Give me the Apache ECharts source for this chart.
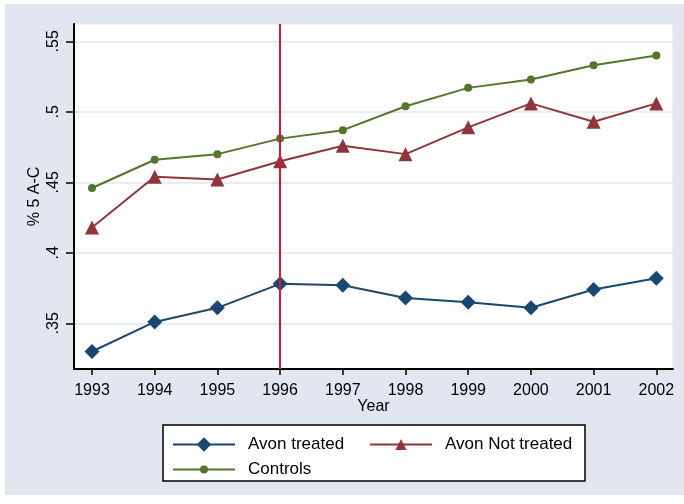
<!DOCTYPE html>
<html>
<head>
<meta charset="utf-8">
<script src="https://cdn.jsdelivr.net/npm/echarts@6/dist/echarts.min.js"></script>
<style>
body { margin: 0; background: #ffffff; }
#chart { width: 684px; height: 504px; }
</style>
</head>
<body>
<div id="chart"></div>
<script>
// data
var years = [1993, 1994, 1995, 1996, 1997, 1998, 1999, 2000, 2001, 2002];
var avonTreated = [0.330, 0.351, 0.361, 0.378, 0.377, 0.368, 0.365, 0.361, 0.374, 0.382];
var avonNotTreated = [0.418, 0.454, 0.452, 0.465, 0.476, 0.470, 0.489, 0.506, 0.493, 0.506];
var controls = [0.446, 0.466, 0.470, 0.481, 0.487, 0.504, 0.517, 0.523, 0.533, 0.540];
var yTicks = [0.35, 0.4, 0.45, 0.5, 0.55];
var treatYear = 1996;

var bg = '#e1e6f0';
var gridCol = '#e1e6f0';
var font = '"Liberation Sans", Arial, sans-serif';

function pairs(vals) {
    var out = [];
    for (var i = 0; i < years.length; i++) {
        out.push([years[i], vals[i]]);
    }
    return out;
}

function yLabel(v) {
    // stata style: .45 instead of 0.45
    return String(Math.round(v * 100) / 100).replace(/^0/, '');
}

function make_series(name, vals, color, symbol, size) {
    return {
        name: name,
        type: 'line',
        data: pairs(vals),
        symbol: symbol,
        symbolSize: size,
        color: color,
        lineStyle: { color: color, width: 2 },
        itemStyle: { color: color },
        emphasis: { disabled: true },
        animation: false
    };
}

function make_legend(name, left, top, h) {
    return {
        data: [name],
        left: left,
        top: top,
        padding: 0,
        itemWidth: 62,
        itemHeight: h,
        selectedMode: false,
        textStyle: { fontFamily: font, fontSize: 17, color: '#000', padding: [0, 0, 0, 8] }
    };
}

var myChart = echarts.init(document.getElementById('chart'));

var series = [
    make_series('Avon treated', avonTreated, '#1a476f', 'diamond', 15),
    make_series('Avon Not treated', avonNotTreated, '#90353b', 'triangle', 14),
    make_series('Controls', controls, '#55752f', 'circle', 8)
];
series[0].markLine = {
    silent: true,
    symbol: 'none',
    label: { show: false },
    lineStyle: { color: '#d4163d', width: 2, type: 'solid' },
    data: [{ xAxis: treatYear }]
};

var option = {
    animation: false,
    backgroundColor: '#ffffff',
    graphic: [
        { type: 'rect', z: -10, shape: { x: 5, y: 4, width: 679, height: 491 }, style: { fill: bg } },
        { type: 'rect', z: -5, shape: { x: 163, y: 425, width: 422, height: 56 },
          style: { fill: '#ffffff', stroke: '#000000', lineWidth: 1.5 } }
    ],
    grid: {
        left: 74, right: 11, top: 24, bottom: 135,
        show: true, backgroundColor: '#ffffff', borderColor: gridCol, borderWidth: 1
    },
    xAxis: {
        type: 'value',
        min: 1992.713,
        max: 2002.266,
        name: 'Year',
        nameLocation: 'middle',
        nameGap: 30,
        nameMoveOverlap: false,
        nameTextStyle: { fontFamily: font, fontSize: 16, color: '#000' },
        axisLine: { lineStyle: { color: '#000', width: 2 } },
        axisTick: { customValues: years, length: 6, lineStyle: { color: '#000', width: 1.5 } },
        axisLabel: { customValues: years, margin: 14, fontFamily: font, fontSize: 16, color: '#000',
                     formatter: function (v) { return String(v); } },
        splitLine: { show: false }
    },
    yAxis: {
        type: 'value',
        min: 0.3176,
        max: 0.5623,
        name: '% 5 A-C',
        nameLocation: 'middle',
        nameGap: 31,
        nameMoveOverlap: false,
        nameTextStyle: { fontFamily: font, fontSize: 16, color: '#000' },
        axisLine: { show: true, lineStyle: { color: '#000', width: 2 } },
        axisTick: { show: true, customValues: yTicks, length: 8, lineStyle: { color: '#000', width: 1.5 } },
        axisLabel: { customValues: yTicks, rotate: 90, margin: 12, fontFamily: font, fontSize: 16,
                     color: '#000', formatter: yLabel },
        splitLine: { show: true, lineStyle: { color: gridCol, width: 1.5 } }
    },
    legend: [
        make_legend('Avon treated', 172, 436, 18),
        make_legend('Avon Not treated', 369, 436, 14),
        make_legend('Controls', 172, 461, 10)
    ],
    series: series
};

myChart.setOption(option);
</script>
</body>
</html>
